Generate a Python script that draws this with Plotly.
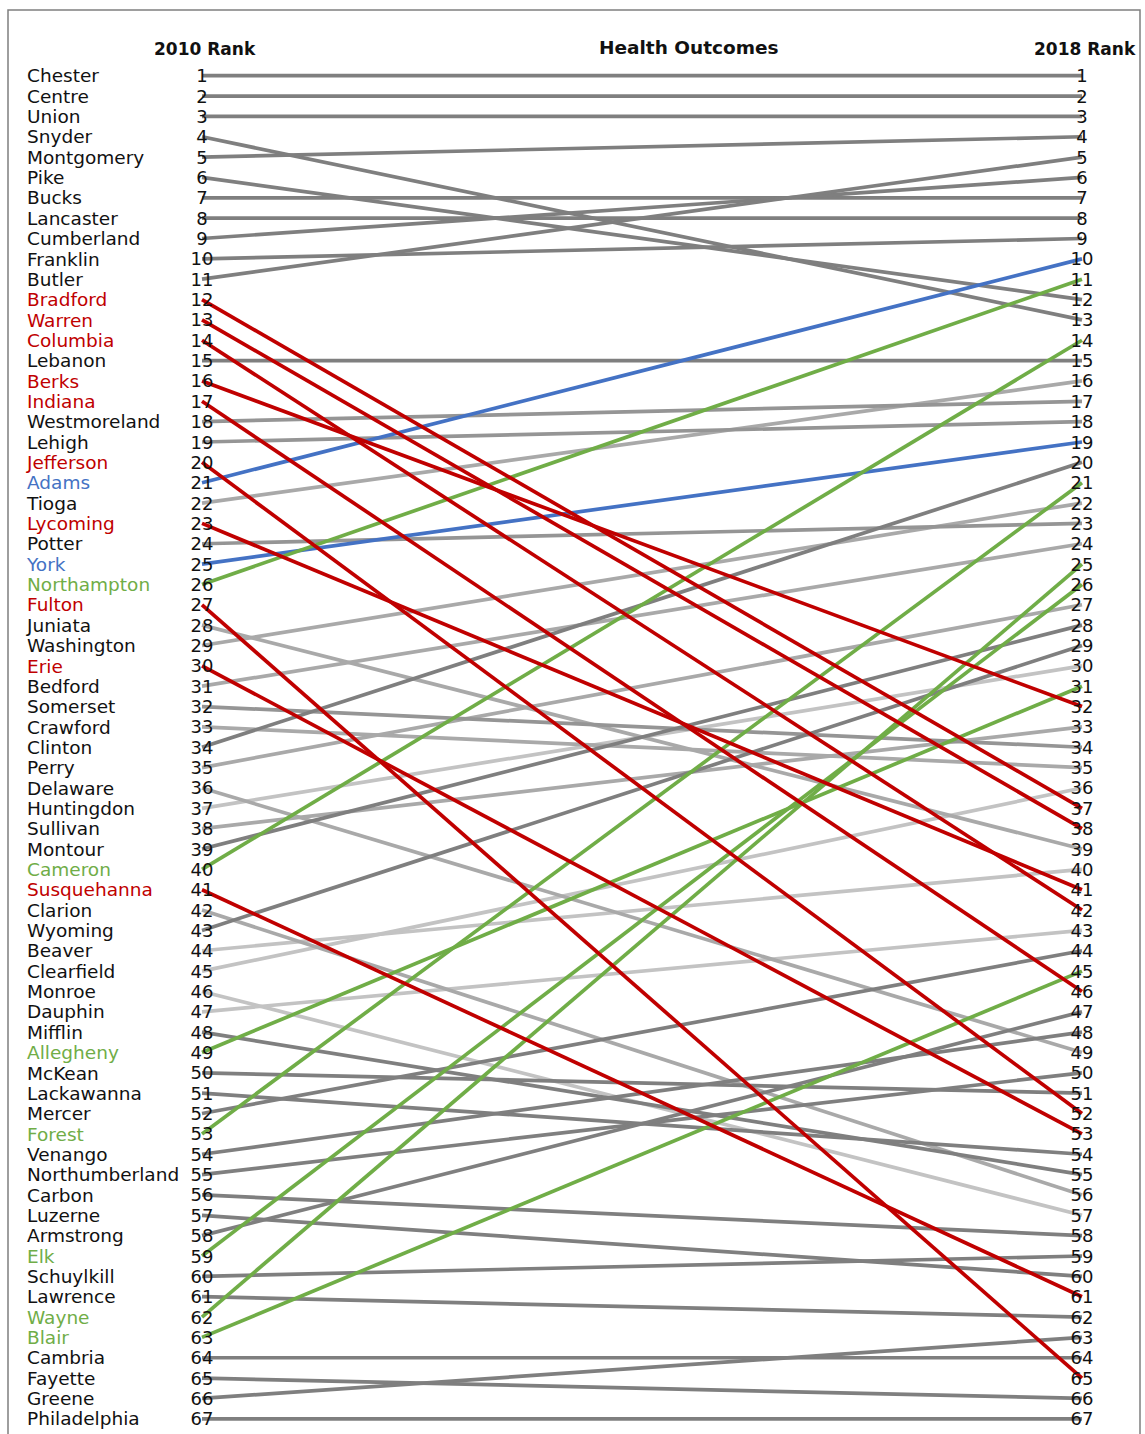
import plotly.graph_objects as go

# ---------------- data ----------------
counties = ["Chester", "Centre", "Union", "Snyder", "Montgomery", "Pike", "Bucks", "Lancaster",
            "Cumberland", "Franklin", "Butler", "Bradford", "Warren", "Columbia", "Lebanon", "Berks",
            "Indiana", "Westmoreland", "Lehigh", "Jefferson", "Adams", "Tioga", "Lycoming", "Potter",
            "York", "Northampton", "Fulton", "Juniata", "Washington", "Erie", "Bedford", "Somerset",
            "Crawford", "Clinton", "Perry", "Delaware", "Huntingdon", "Sullivan", "Montour", "Cameron",
            "Susquehanna", "Clarion", "Wyoming", "Beaver", "Clearfield", "Monroe", "Dauphin", "Mifflin",
            "Allegheny", "McKean", "Lackawanna", "Mercer", "Forest", "Venango", "Northumberland",
            "Carbon", "Luzerne", "Armstrong", "Elk", "Schuylkill", "Lawrence", "Wayne", "Blair",
            "Cambria", "Fayette", "Greene", "Philadelphia"]

rank_2010 = [1, 2, 3, 4, 5, 6, 7, 8, 9, 10, 11, 12, 13, 14, 15, 16, 17, 18, 19, 20, 21, 22, 23, 24,
             25, 26, 27, 28, 29, 30, 31, 32, 33, 34, 35, 36, 37, 38, 39, 40, 41, 42, 43, 44, 45, 46,
             47, 48, 49, 50, 51, 52, 53, 54, 55, 56, 57, 58, 59, 60, 61, 62, 63, 64, 65, 66, 67]

rank_2018 = [1, 2, 3, 13, 4, 12, 7, 8, 6, 9, 5, 37, 38, 42, 15, 32, 46, 17, 18, 52, 10, 16, 41, 23,
             19, 11, 65, 39, 22, 53, 24, 34, 35, 20, 27, 49, 30, 33, 28, 14, 61, 56, 29, 40, 36, 57,
             43, 55, 31, 51, 54, 44, 21, 48, 50, 58, 60, 47, 26, 59, 62, 25, 45, 64, 66, 63, 67]

# highlight group of each county: "down" (red), "blue", "up" (green), or a gray shade
group = {
    "Bradford": "down", "Warren": "down", "Columbia": "down", "Berks": "down", "Indiana": "down",
    "Jefferson": "down", "Lycoming": "down", "Fulton": "down", "Erie": "down", "Susquehanna": "down",
    "Adams": "blue", "York": "blue",
    "Northampton": "up", "Cameron": "up", "Allegheny": "up", "Forest": "up", "Elk": "up",
    "Wayne": "up", "Blair": "up",
    "Westmoreland": "mid", "Lehigh": "mid", "Potter": "mid", "Somerset": "mid",
    "Tioga": "light", "Washington": "light", "Bedford": "light", "Perry": "light",
    "Juniata": "light", "Delaware": "light", "Clarion": "light", "Sullivan": "light",
    "Crawford": "light",
    "Huntingdon": "pale", "Clearfield": "pale", "Beaver": "pale", "Dauphin": "pale", "Monroe": "pale",
}

title_text = "Health Outcomes"
left_header = "2010 Rank"
right_header = "2018 Rank"

# ---------------- styles ----------------
line_colors = {"dark": "#7f7f7f", "mid": "#959595", "light": "#a9a9a9", "pale": "#c3c3c3",
               "down": "#c00000", "blue": "#4472c4", "up": "#70ad47"}
label_colors = {"down": "#c00000", "blue": "#4472c4", "up": "#70ad47"}
FONT = "DejaVu Sans"
TXT = "#111111"
TEXT_DROP = 0.1   # small downward nudge of text relative to the line ends (in rank units)

W, H = 1145, 1434
X_LEFT, X_RIGHT = 202.0, 1082.0          # pixel x of the two rank columns
Y_FIRST, ROW = 75.7, 20.35              # pixel y of rank 1, pixel per rank
span = X_RIGHT - X_LEFT
x_range = [-X_LEFT / span, (W - X_LEFT) / span]
y_range = [1 + (H - Y_FIRST) / ROW, 1 - Y_FIRST / ROW]


def px_to_x(p):
    return (p - X_LEFT) / span


def px_to_y(p):
    return 1 + (p - Y_FIRST) / ROW


fig = go.Figure()

draw_order = ["pale", "light", "mid", "dark", "blue", "up", "down"]
for g in draw_order:
    xs, ys = [], []
    for name, r0, r1 in zip(counties, rank_2010, rank_2018):
        if group.get(name, "dark") == g:
            xs += [0, 1, None]
            ys += [r0, r1, None]
    if xs:
        fig.add_trace(go.Scatter(x=xs, y=ys, mode="lines",
                                 line=dict(color=line_colors[g], width=3.7),
                                 hoverinfo="skip", showlegend=False))

# county names
fig.add_trace(go.Scatter(
    x=[px_to_x(27)] * len(counties), y=[r + TEXT_DROP for r in rank_2010], mode="text",
    text=counties, textposition="middle right",
    textfont=dict(family=FONT, size=18.5,
                  color=[label_colors.get(group.get(c, "dark"), TXT) for c in counties]),
    hoverinfo="skip", showlegend=False))

# rank numbers
fig.add_trace(go.Scatter(
    x=[0] * len(rank_2010), y=[r + TEXT_DROP for r in rank_2010], mode="text",
    text=[str(r) for r in rank_2010],
    textposition="middle center", textfont=dict(family=FONT, size=18, color=TXT),
    hoverinfo="skip", showlegend=False))
fig.add_trace(go.Scatter(
    x=[1] * len(rank_2018), y=[r + TEXT_DROP for r in rank_2018], mode="text",
    text=[str(r) for r in rank_2018],
    textposition="middle center", textfont=dict(family=FONT, size=18, color=TXT),
    hoverinfo="skip", showlegend=False))

# headers
fig.add_annotation(x=px_to_x(205), y=px_to_y(49), xref="x", yref="y",
                   text="<b>%s</b>" % left_header, showarrow=False,
                   font=dict(family=FONT, size=17, color=TXT))
fig.add_annotation(x=px_to_x(1085), y=px_to_y(49), xref="x", yref="y",
                   text="<b>%s</b>" % right_header, showarrow=False,
                   font=dict(family=FONT, size=17, color=TXT))
fig.add_annotation(x=px_to_x(689), y=px_to_y(47), xref="x", yref="y",
                   text="<b>%s</b>" % title_text, showarrow=False,
                   font=dict(family=FONT, size=18.5, color=TXT))

# outer frame
fig.add_shape(type="rect", xref="paper", yref="paper",
              x0=8 / W, x1=1140 / W, y0=-0.02, y1=1 - 10 / H,
              line=dict(color="#7f7f7f", width=1.5), fillcolor="rgba(0,0,0,0)", layer="below")

fig.update_layout(
    width=W, height=H, margin=dict(l=0, r=0, t=0, b=0),
    paper_bgcolor="white", plot_bgcolor="white",
    xaxis=dict(range=x_range, visible=False, fixedrange=True),
    yaxis=dict(range=y_range, visible=False, fixedrange=True),
    font=dict(family=FONT),
)

fig.write_html("out.html", config={"displayModeBar": False},
               post_script="document.body.style.margin='0';document.body.style.overflow='hidden';")
